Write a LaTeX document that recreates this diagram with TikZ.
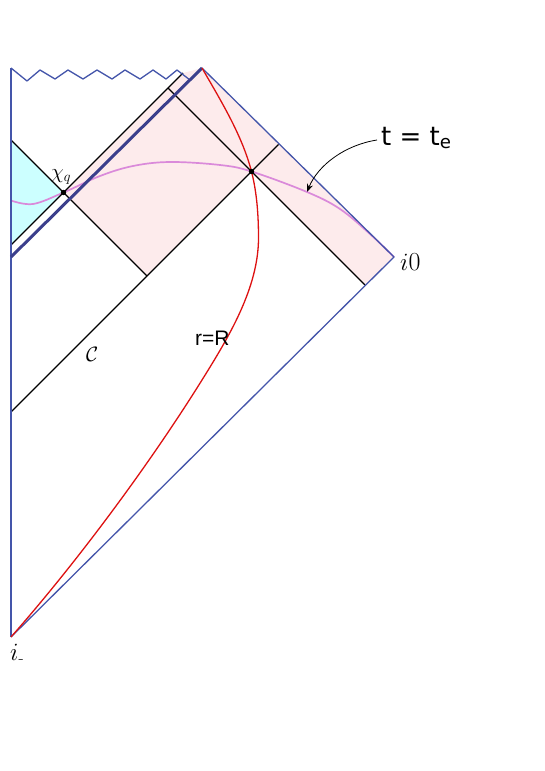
\documentclass[tikz,border=0pt]{standalone}
\usepackage{fontspec}
\newfontfamily\dejavu{DejaVu Sans}
\newfontfamily\libsans{Liberation Sans}
\usetikzlibrary{arrows.meta}
\definecolor{bndblue}{HTML}{4455AA}
\definecolor{horblue}{HTML}{3B3F8C}
\definecolor{pinkfill}{HTML}{FDEBEC}
\definecolor{cyanfill}{HTML}{CCFFFF}
\definecolor{rcurve}{HTML}{DD1111}
\definecolor{tcurve}{HTML}{DA8ADA}
\tikzset{
  bnd/.style={draw=bndblue, line width=1.3pt, line join=round},
  hor/.style={draw=horblue, line width=3pt},
  nullline/.style={draw=black, line width=1.4pt},
  rline/.style={draw=rcurve, line width=1.3pt},
  tline/.style={draw=tcurve, line width=1.7pt},
  lbl/.style={inner sep=0pt},
}
\begin{document}
\begin{tikzpicture}[x=1pt,y=-1pt]
\useasboundingbox (0,0) rectangle (545,771);
% key points
\coordinate (tl) at (11,68);
\coordinate (im) at (11,637);
\coordinate (top) at (202,68);
\coordinate (io) at (394,257);
\coordinate (hl) at (11,257);
\coordinate (hz) at (190,80);
\coordinate (Al) at (11,245);
\coordinate (At) at (183,73);
\coordinate (Bl) at (11,140);
\coordinate (Bb) at (147,276);
\coordinate (Cl) at (11,412);
\coordinate (Ct) at (278.5,144.5);
\coordinate (Dt) at (168,88);
\coordinate (Db) at (365,285);
\coordinate (xq) at (63.5,192.5);
\coordinate (dot) at (251.5,171.5);
\coordinate (rmax) at (258.5,238);
\coordinate (rmid) at (202,380);
\coordinate (arrS) at (377,140);
\coordinate (arrE) at (307,192);
% fills
\fill[pinkfill] (xq) -- (At) -- (top) -- (io) -- (Db) -- (dot) -- (Bb) -- cycle;
\fill[cyanfill] (Bl) -- (xq) -- (Al) -- cycle;
% t = t_e curve
\draw[tline] plot[smooth, tension=0.6] coordinates {(11,200.5) (33,204) (63.5,192.5) (100,176) (133,166) (170,162) (220,165) (251.5,171.5) (307,192) (340,209) (370,234) (394,257)};
% null lines
\draw[nullline] (Al) -- (At);
\draw[nullline] (Bl) -- (Bb);
\draw[nullline] (Cl) -- (Ct);
\draw[nullline] (Dt) -- (Db);
% boundaries
\draw[bnd] (tl) -- (im);
\draw[bnd] (top) -- (io) -- (im);
\draw[bnd] (tl) -- (27,81) -- (40,70) -- (55,79) -- (68,70) -- (83,79) -- (97,70) -- (112,79) -- (125,70) -- (140,79) -- (153,70) -- (166,79) -- (177,70) -- (hz);
\draw[hor] (hl) -- (top);
% r = R
\draw[rline] (top) .. controls (221,101) and (242,135) .. (dot)
  .. controls (257,193) and (258.5,216) .. (rmax)
  .. controls (258.5,288) and (228.5,337.5) .. (rmid)
  .. controls (149,465) and (77,562) .. (im);
% dots
\fill (xq) circle (2.7);
\fill (dot) circle (2.7);
% arrow
\draw[line width=0.8pt, -{Stealth[length=8pt,width=6pt]}] (arrS) .. controls (345,145) and (318,165) .. (arrE);
% labels
\node[lbl, anchor=base west, font=\dejavu\fontsize{26}{30}\selectfont] (tlab) at (381,145) {t = t\textsubscript{e}};
\node[lbl, anchor=base west, font=\fontsize{22}{26}\selectfont] (xlab) at (51,178) {$\chi_q$};
\node[lbl, anchor=base west] (iolab) at (400,270) {\fontsize{31}{34}\selectfont$i$\fontsize{26}{30}\selectfont 0};
\node[lbl, anchor=base west] (imlab) at (10,660) {\fontsize{24}{28}\selectfont$i$\textsubscript{-}};
\node[lbl, anchor=base west, font=\libsans\fontsize{21}{24}\selectfont] (rlab) at (195,345) {r=R};
\node[lbl, anchor=base west, font=\fontsize{22}{26}\selectfont] (clab) at (86,361) {$\mathcal{C}$};
\end{tikzpicture}
\end{document}
